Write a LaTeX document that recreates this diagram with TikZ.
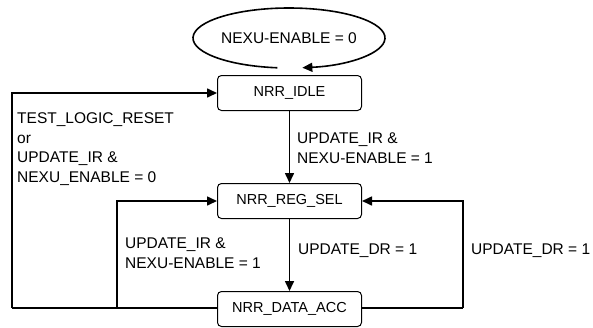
\documentclass[tikz,border=0pt]{standalone}
\usepackage{fontspec}
\setmainfont{Liberation Sans}
\usetikzlibrary{arrows.meta,calc}
\begin{document}
\begin{tikzpicture}[x=1pt,y=1pt,
  every node/.style={font=\fontsize{15.5}{19.5}\selectfont},
  statebox/.style={draw, line width=1pt, rounded corners=4pt, minimum width=144pt, minimum height=35pt, inner sep=0pt, font=\fontsize{14.5}{19.5}\selectfont},
  lbl/.style={anchor=west, align=left, inner sep=0pt},
  conn/.style={line width=1.6pt, -{Triangle[length=10pt,width=9pt]}},
  plain/.style={line width=1.6pt}]
\useasboundingbox (0,0) rectangle (593,-327);
% nodes
\node (cond) at (289,-38) {NEXU-ENABLE = 0};
\node[statebox] (idle) at (289.5,-93) {NRR\_IDLE};
\node[statebox] (regsel) at (289.5,-201) {NRR\_REG\_SEL};
\node[statebox] (dataacc) at (289.5,-309) {NRR\_DATA\_ACC};
% self loop ellipse
\draw[conn] ($(cond)+(263:96 and 30)$) arc[start angle=263, end angle=-82, x radius=96, y radius=30];
% vertical transitions
\draw[conn] (idle.south) -- (regsel.north);
\draw[conn] (regsel.south) -- (dataacc.north);
% loops
\coordinate (oc) at (12,-308);
\coordinate (ic) at (117,-308);
\coordinate (rc) at (463,-308);
\draw[plain] (dataacc.west |- oc) -- (oc);
\draw[conn] (oc) |- (idle.west);
\draw[conn] (ic) |- (regsel.west);
\draw[plain] (dataacc.east |- rc) -- (rc);
\draw[conn] (rc) |- (regsel.east);
% labels
\node[lbl] (l1) at (17,-149) {TEST\_LOGIC\_RESET\\or\\UPDATE\_IR \&\\NEXU\_ENABLE = 0};
\node[lbl] (l2) at (297,-148) {UPDATE\_IR \&\\NEXU-ENABLE = 1};
\node[lbl] (l3) at (125,-253) {UPDATE\_IR \&\\NEXU-ENABLE = 1};
\node[lbl] (l4) at (298,-251) {UPDATE\_DR = 1};
\node[lbl] (l5) at (471,-251) {UPDATE\_DR = 1};
\end{tikzpicture}
\end{document}
